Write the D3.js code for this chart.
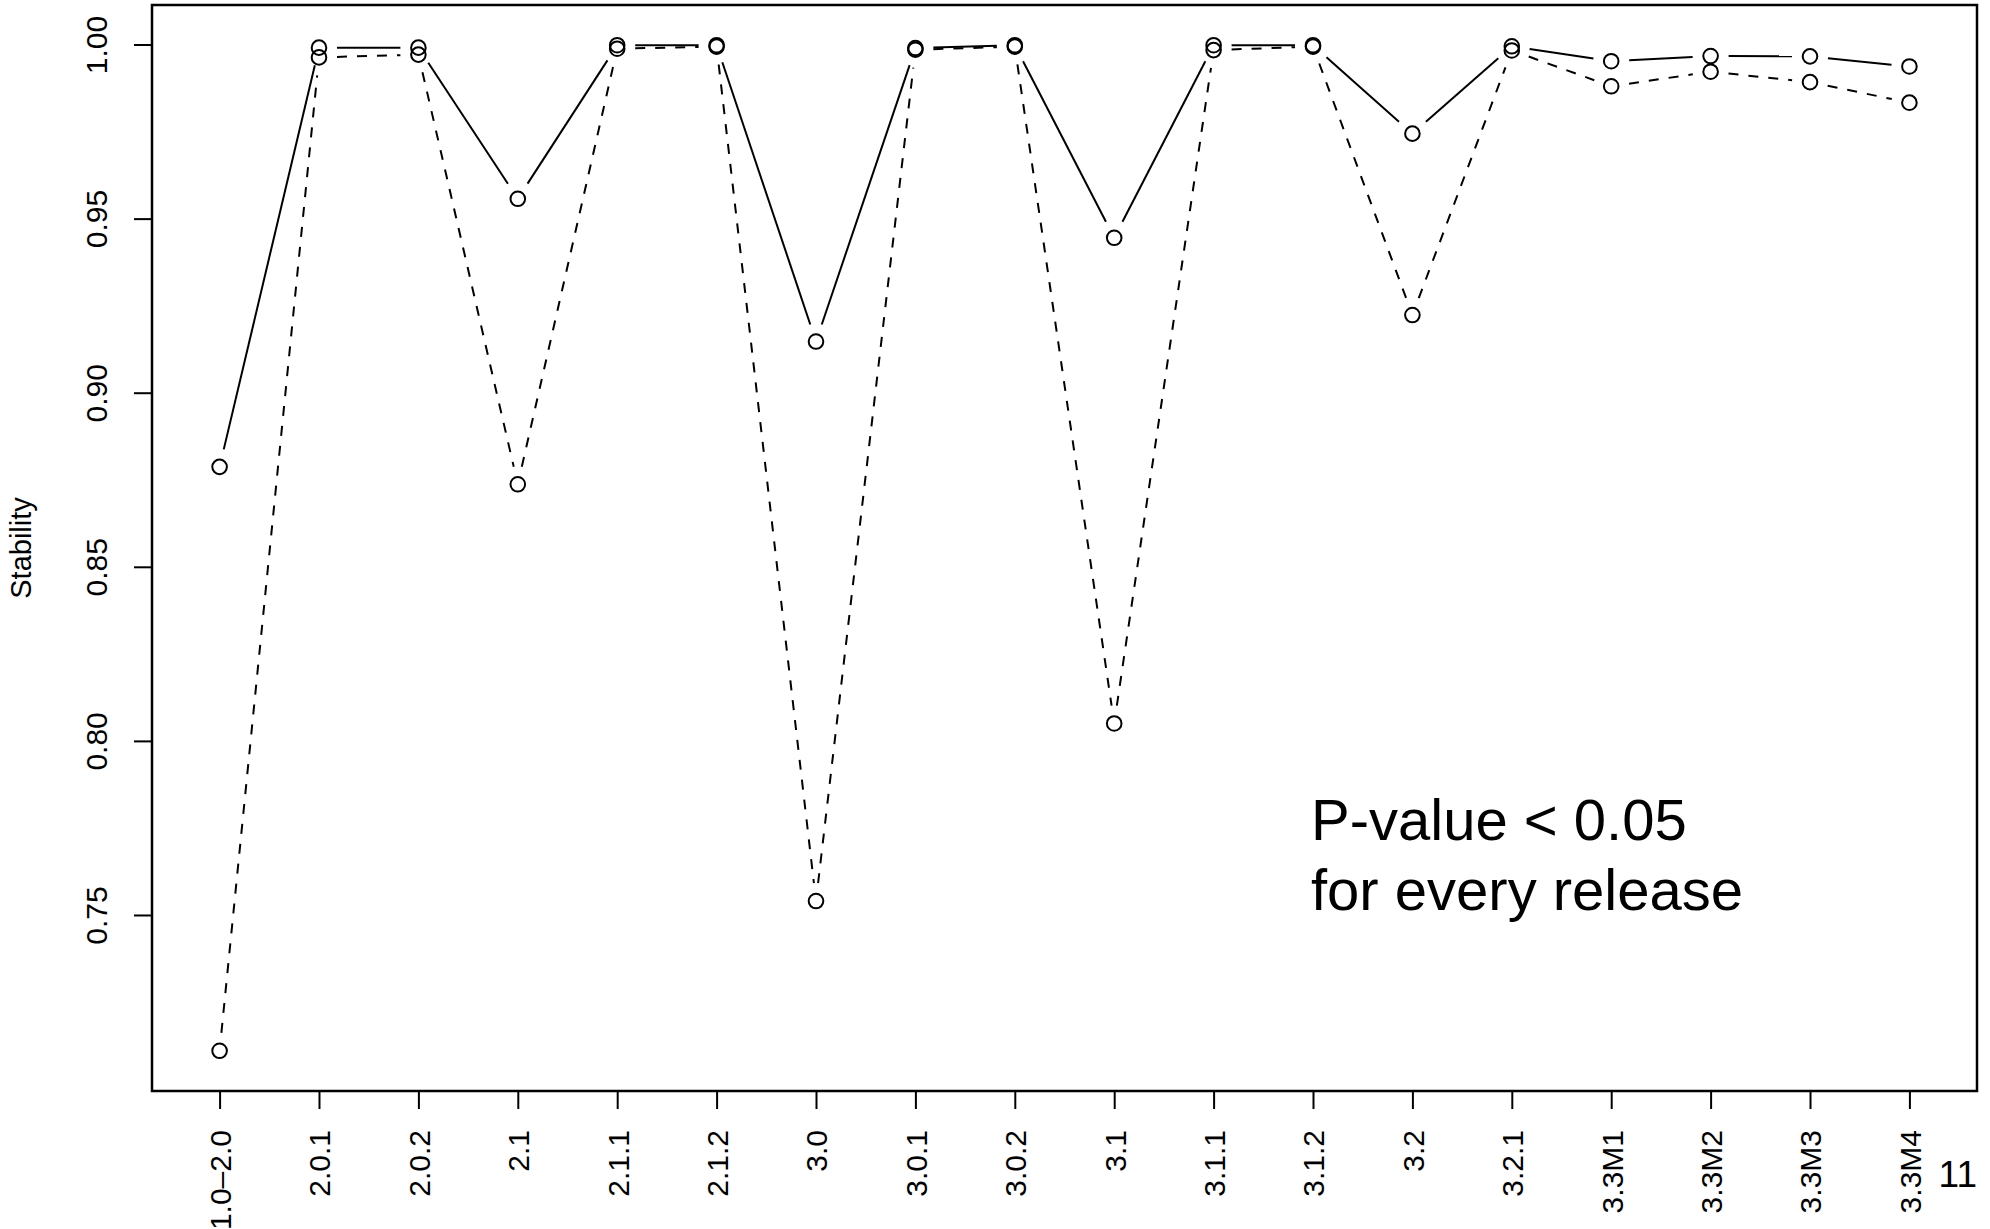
<!DOCTYPE html>
<html>
<head>
<meta charset="utf-8">
<script src="https://cdn.jsdelivr.net/npm/d3@7"></script>
<style>
  body { margin: 0; background: #fff; }
  text { font-family: "Liberation Sans", Arial, Helvetica, sans-serif; fill: #000; }
</style>
</head>
<body>
<div id="chart"></div>
<script>

// Data

const releases = ["1.0\u20132.0", "2.0.1", "2.0.2", "2.1", "2.1.1", "2.1.2", "3.0", "3.0.1", "3.0.2",
  "3.1", "3.1.1", "3.1.2", "3.2", "3.2.1", "3.3M1", "3.3M2", "3.3M3", "3.3M4"];

const solidValues = [0.8787, 0.9991, 0.9991, 0.9557, 0.9998, 0.9998, 0.9147, 0.9990, 0.9998,
  0.9445, 0.9998, 0.9998, 0.9744, 0.9995, 0.9952, 0.9967, 0.9966, 0.9937];

const dashedValues = [0.7110, 0.9963, 0.9971, 0.8737, 0.9988, 0.9994, 0.7540, 0.9985, 0.9994,
  0.8050, 0.9984, 0.9994, 0.9223, 0.9983, 0.9880, 0.9922, 0.9892, 0.9833];

const yTicks = [0.75, 0.80, 0.85, 0.90, 0.95, 1.00];

const yLabel = "Stability";
const noteLines = ["P-value < 0.05", "for every release"];
const pageNumber = "11";

// Layout

const width = 1990, height = 1229;
const plot = { left: 152, right: 1977, top: 5, bottom: 1091 };
const tickLen = 18;
const gap = 18;

const svg = d3.select("#chart").append("svg")
  .attr("width", width)
  .attr("height", height);

svg.append("rect").attr("width", width).attr("height", height).attr("fill", "#fff");

// Scales, extended by 4% like base R plots

const n = releases.length;
const xScale = d3.scaleLinear()
  .domain([1 - 0.04 * (n - 1), n + 0.04 * (n - 1)])
  .range([plot.left, plot.right]);

const allValues = solidValues.concat(dashedValues);
const yMin = d3.min(allValues), yMax = d3.max(allValues);
const yPad = 0.04 * (yMax - yMin);
const yScale = d3.scaleLinear()
  .domain([yMin - yPad, yMax + yPad])
  .range([plot.bottom, plot.top]);

// Axes

const xAxis = d3.axisBottom(xScale)
  .tickValues(d3.range(1, n + 1))
  .tickSize(tickLen)
  .tickFormat("");

const yAxis = d3.axisLeft(yScale)
  .tickValues(yTicks)
  .tickSize(tickLen)
  .tickFormat("");

const gx = svg.append("g")
  .attr("transform", "translate(0," + plot.bottom + ")")
  .call(xAxis);

const gy = svg.append("g")
  .attr("transform", "translate(" + plot.left + ",0)")
  .call(yAxis);

svg.selectAll(".domain").remove();
svg.selectAll(".tick line").attr("stroke", "#000").attr("stroke-width", 2);

// Tick labels, rotated like las=2 / las=0

gx.selectAll(".tick").append("text")
  .attr("transform", "translate(0," + (tickLen + 21) + ") rotate(-90)")
  .attr("text-anchor", "end")
  .attr("dy", "0.36em")
  .attr("font-size", 30)
  .text(d => releases[d - 1]);

gy.selectAll(".tick").append("text")
  .attr("transform", "translate(-45,0) rotate(-90)")
  .attr("text-anchor", "middle")
  .attr("font-size", 30)
  .text(d => d.toFixed(2));

svg.append("text")
  .attr("transform", "translate(31," + ((plot.top + plot.bottom) / 2) + ") rotate(-90)")
  .attr("text-anchor", "middle")
  .attr("font-size", 29)
  .text(yLabel);

// Lines with gaps around the points (type = "b")

function segments(values) {
  const pts = values.map((v, i) => [xScale(i + 1), yScale(v)]);
  const segs = [];
  for (let i = 0; i < pts.length - 1; i++) {
    const [x0, y0] = pts[i], [x1, y1] = pts[i + 1];
    const dist = Math.hypot(x1 - x0, y1 - y0);
    if (dist <= 2 * gap) continue;
    const ux = (x1 - x0) / dist, uy = (y1 - y0) / dist;
    segs.push([[x0 + ux * gap, y0 + uy * gap], [x1 - ux * gap, y1 - uy * gap]]);
  }
  return segs;
}

const line = d3.line();

svg.append("g").selectAll("path")
  .data(segments(solidValues))
  .join("path")
  .attr("d", line)
  .attr("fill", "none")
  .attr("stroke", "#000")
  .attr("stroke-width", 2);

svg.append("g").selectAll("path")
  .data(segments(dashedValues))
  .join("path")
  .attr("d", line)
  .attr("fill", "none")
  .attr("stroke", "#000")
  .attr("stroke-width", 2)
  .attr("stroke-dasharray", "10,10");

// Points

[solidValues, dashedValues].forEach(values => {
  svg.append("g").selectAll("circle")
    .data(values)
    .join("circle")
    .attr("cx", (d, i) => xScale(i + 1))
    .attr("cy", d => yScale(d))
    .attr("r", 7.3)
    .attr("fill", "none")
    .attr("stroke", "#000")
    .attr("stroke-width", 2);
});

// Plot box

svg.append("rect")
  .attr("x", plot.left)
  .attr("y", plot.top)
  .attr("width", plot.right - plot.left)
  .attr("height", plot.bottom - plot.top)
  .attr("fill", "none")
  .attr("stroke", "#000")
  .attr("stroke-width", 2.5);

// Annotation and page number

svg.append("g").selectAll("text")
  .data(noteLines)
  .join("text")
  .attr("x", 1311)
  .attr("y", (d, i) => 840 + i * 70)
  .attr("font-size", 58)
  .text(d => d);

svg.append("text")
  .attr("x", plot.right)
  .attr("y", 1187)
  .attr("text-anchor", "end")
  .attr("font-size", 37)
  .text(pageNumber);

</script>
</body>
</html>
